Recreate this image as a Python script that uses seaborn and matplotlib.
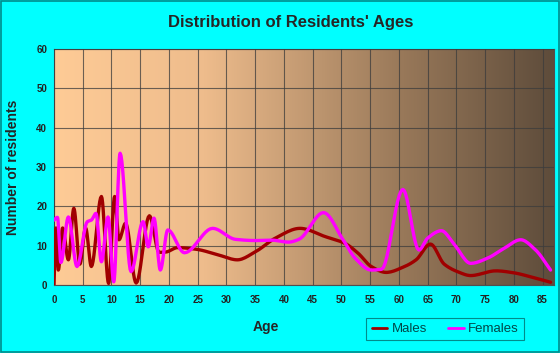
import matplotlib
matplotlib.use("Agg")
import matplotlib.pyplot as plt
import numpy as np
import pandas as pd
import seaborn as sns
from matplotlib.colors import LinearSegmentedColormap
from matplotlib.patches import Rectangle

# ---------------------------------------------------------
# Data
# ---------------------------------------------------------
male_age = [0, 0.35, 0.75, 1.5, 2.5, 3.45, 4.5, 5.5, 6.5, 8.25, 9.5, 10.55,
            11.3, 12.45, 14.3, 16.6, 18.3, 19.5, 21.5, 24.7, 28.7, 31.9, 35.1,
            38.5, 42.8, 47.2, 50.6, 52.9, 55.2, 57.8, 61.0, 63.0, 65.5, 67.9,
            70.2, 72.5, 76.9, 80.0, 82.9, 86.4]
male_count = [0, 14.5, 3.8, 14.5, 6.4, 19.5, 5.3, 14.5, 4.7, 22.5, 0.4, 22.5,
              11.5, 15.7, 0.5, 17.6, 8.3, 8.4, 9.5, 9.1, 7.6, 6.4, 8.5,
              11.9, 14.4, 12.3, 10.6, 8.1, 4.7, 3.2, 4.7, 6.4, 10.4, 5.3,
              3.4, 2.4, 3.6, 3.1, 2.1, 0.7]

female_age = [0, 0.6, 1.2, 2.5, 4.0, 5.8, 6.5, 7.3, 8.25, 9.4, 10.4, 11.5,
              13.4, 15.5, 16.4, 17.4, 18.5, 19.8, 22.7, 27.6, 31.6, 35.1, 37.9,
              40.8, 42.6, 46.9, 50.3, 52.4, 55.2, 57.0, 60.7, 63.5, 65.0, 67.4,
              69.7, 72.5, 75.4, 78.3, 81.2, 83.8, 86.4]
female_count = [16.5, 17.2, 5.7, 17.3, 4.7, 16.1, 16.5, 18.2, 5.9, 17.3, 0.8, 33.5,
                3.4, 16.1, 9.7, 17.0, 3.8, 14.0, 8.2, 14.4, 11.6, 11.3, 11.4,
                10.9, 11.6, 18.4, 11.5, 6.8, 3.8, 4.0, 24.3, 8.9, 11.9, 13.8,
                10.2, 5.5, 6.8, 9.3, 11.5, 8.9, 3.8]

x_ticks = list(range(0, 90, 5))
y_ticks = list(range(0, 70, 10))


def smooth_line(xs, ys, n=12):
    """Monotone cubic (PCHIP) drawing of a polyline so the curve looks rounded."""
    xs = np.asarray(xs, float)
    ys = np.asarray(ys, float)
    h = np.diff(xs)
    d = np.diff(ys) / h
    m = np.zeros_like(ys)
    for k in range(1, len(xs) - 1):
        if d[k - 1] * d[k] > 0:
            w1 = 2 * h[k] + h[k - 1]
            w2 = h[k] + 2 * h[k - 1]
            m[k] = (w1 + w2) / (w1 / d[k - 1] + w2 / d[k])
    m[0] = d[0]
    m[-1] = d[-1]
    out_x, out_y = [], []
    for k in range(len(xs) - 1):
        t = np.linspace(0, 1, n, endpoint=False)
        h00 = 2 * t**3 - 3 * t**2 + 1
        h10 = t**3 - 2 * t**2 + t
        h01 = -2 * t**3 + 3 * t**2
        h11 = t**3 - t**2
        out_x.append(xs[k] + t * h[k])
        out_y.append(h00 * ys[k] + h10 * h[k] * m[k] + h01 * ys[k + 1] + h11 * h[k] * m[k + 1])
    out_x.append([xs[-1]])
    out_y.append([ys[-1]])
    return np.concatenate(out_x), np.concatenate(out_y)


mx, my = smooth_line(male_age, male_count)
fx, fy = smooth_line(female_age, female_count)
df = pd.concat([
    pd.DataFrame({"Age": mx, "Count": my, "Sex": "Males"}),
    pd.DataFrame({"Age": fx, "Count": fy, "Sex": "Females"}),
])

sns.set_style("white")
plt.rcParams["font.family"] = ["Liberation Sans", "DejaVu Sans"]

BG = "#00FFFF"
fig = plt.figure(figsize=(5.6, 3.53), dpi=100, facecolor=BG)
ax = fig.add_axes([54 / 560, 1 - 285 / 353, 500 / 560, 236 / 353])

# gradient background of the plot area
grad_cmap = LinearSegmentedColormap.from_list(
    "bg", [(0.0, "#FECB96"), (0.3, "#EEBC8C"), (0.7, "#987859"), (1.0, "#5E4C3B")])
ax.imshow(np.linspace(0, 1, 256)[None, :], cmap=grad_cmap, aspect="auto",
          extent=[0, 87, 0, 60], zorder=0)

sns.lineplot(data=df, x="Age", y="Count", hue="Sex", estimator=None, sort=False,
             palette={"Males": "#A00000", "Females": "#FF00FF"},
             linewidth=2.4, ax=ax, zorder=3)

ax.set_xlim(0, 87)
ax.set_ylim(0, 60)
ax.set_xticks(x_ticks)
ax.set_xticks(np.arange(0, 88, 1), minor=True)
ax.set_yticks(y_ticks)
ax.grid(True, which="major", color="#3C3C3C", linewidth=0.8, alpha=0.75, zorder=1)
ax.set_axisbelow(False)
for sp in ax.spines.values():
    sp.set_color("#505050")
    sp.set_linewidth(0.8)
ax.tick_params(axis="both", which="major", direction="out", length=3, width=0.7,
               color="#404040", labelsize=7, labelcolor="#222222", pad=4)
ax.tick_params(axis="x", which="minor", direction="out", length=2, width=0.6, color="#404040")
ax.tick_params(axis="y", which="major", length=3, pad=2)
for lab in ax.get_xticklabels() + ax.get_yticklabels():
    lab.set_fontweight("bold")

ax.set_xlabel("")
ax.set_ylabel("")
fig.text(13 / 560, 1 - 167 / 353, "Number of residents", fontsize=10, fontweight="bold",
         rotation=90, ha="center", va="center")
fig.text(266 / 560, 1 - 327 / 353, "Age", fontsize=10, fontweight="bold",
         ha="center", va="center")
fig.suptitle("Distribution of Residents' Ages", x=291 / 560, y=1 - 22 / 353,
             fontsize=12, fontweight="bold", va="center")

handles, labels = ax.get_legend_handles_labels()
leg = ax.legend(handles, labels, ncol=2, loc="center", fontsize=9.5,
                bbox_to_anchor=(445 / 560, 1 - 329 / 353), bbox_transform=fig.transFigure,
                frameon=True, fancybox=False, handlelength=1.2, handletextpad=0.3,
                columnspacing=1.6, borderpad=0.4)
leg.get_frame().set_facecolor(BG)
leg.get_frame().set_edgecolor("#007070")
leg.get_frame().set_linewidth(0.8)
for t in leg.get_texts():
    t.set_color("#004848")
for line in leg.get_lines():
    line.set_linewidth(2)

# thin border round the whole picture
fig.patches.append(Rectangle((0.001, 0.002), 0.997, 0.996, transform=fig.transFigure,
                             fill=False, edgecolor="#008B8B", linewidth=1.2))

fig.savefig("out.png", dpi=100, facecolor=BG)
